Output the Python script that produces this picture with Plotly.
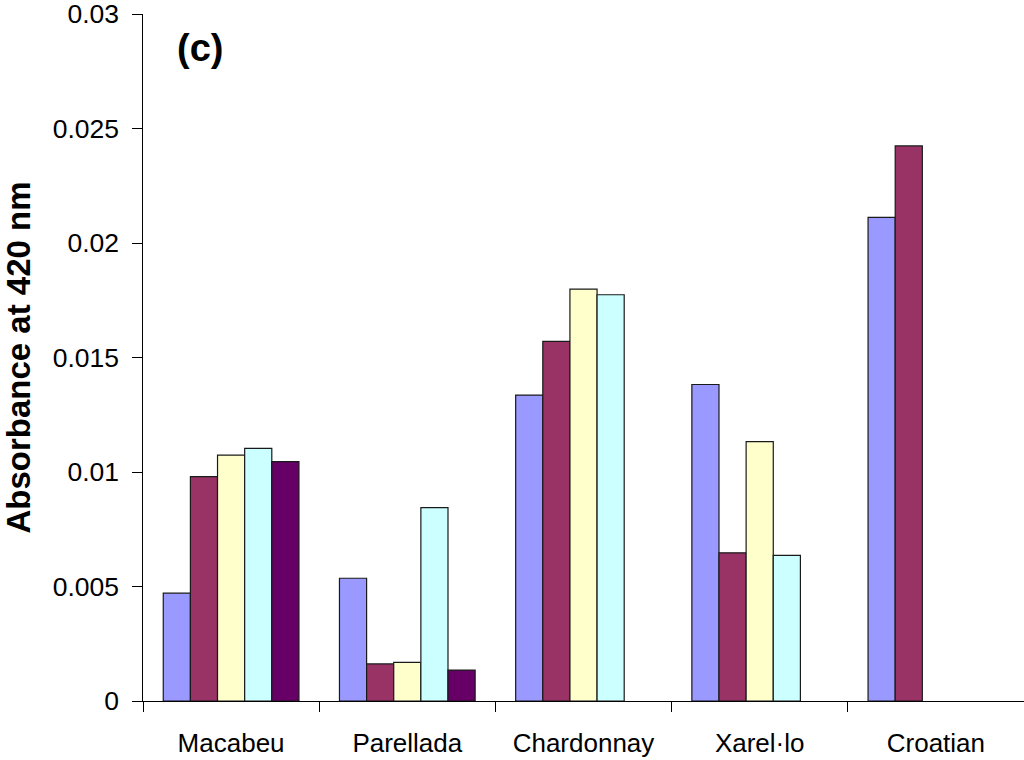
import plotly.graph_objects as go

categories = ["Macabeu", "Parellada", "Chardonnay", "Xarel·lo", "Croatian"]
series1 = [0.00471, 0.00536, 0.01336, 0.01382, 0.02112]
series2 = [0.00980, 0.00162, 0.01570, 0.00647, 0.02424]
series3 = [0.01074, 0.00169, 0.01799, 0.01133, None]
series4 = [0.01103, 0.00844, 0.01774, 0.00636, None]
series5 = [0.01045, 0.00135, None, None, None]
series_names = ["S1", "S2", "S3", "S4", "S5"]
colors = ["#9999FF", "#993366", "#FFFFCC", "#CCFFFF", "#660066"]
y_ticks = [0, 0.005, 0.01, 0.015, 0.02, 0.025, 0.03]
y_tick_labels = ["0", "0.005", "0.01", "0.015", "0.02", "0.025", "0.03"]

fig = go.Figure()
for name, vals, col in zip(series_names, [series1, series2, series3, series4, series5], colors):
    fig.add_trace(go.Bar(
        x=categories, y=vals, name=name,
        marker=dict(color=col, line=dict(color="#1a1a1a", width=1.2)),
    ))

font_family = "Liberation Sans, Arial, sans-serif"
pad = "\u2009\u200a"
fig.update_layout(
    width=1024, height=760,
    margin=dict(l=143, r=0, t=14, b=59),
    paper_bgcolor="white", plot_bgcolor="white",
    barmode="group", bargap=0.23, bargroupgap=0,
    showlegend=False,
    font=dict(family=font_family, color="#000000", size=26),
    xaxis=dict(
        automargin=False,
        showline=True, linecolor="#000000", linewidth=1.2,
        ticks="outside", ticklen=10, tickwidth=1.2, tickcolor="#000000",
        tickson="boundaries", showgrid=False,
        ticklabelstandoff=19,
        tickfont=dict(size=26, family=font_family),
    ),
    yaxis=dict(
        automargin=False,
        range=[0, 0.03], tickvals=y_ticks, ticktext=[t + pad for t in y_tick_labels],
        showline=True, linecolor="#000000", linewidth=1.2,
        ticks="outside", ticklen=10, tickwidth=1.2, tickcolor="#000000",
        showgrid=False, zeroline=False,
        ticklabeloverflow="allow",
        tickfont=dict(size=26.5, family=font_family),
        title=dict(text="<b>Absorbance at 420 nm</b>", font=dict(size=33, family=font_family), standoff=17),
    ),
    annotations=[dict(
        text="<b>(c)</b>", x=0.036, y=0.951, xref="paper", yref="paper",
        xanchor="left", yanchor="middle", showarrow=False,
        font=dict(size=38, family=font_family),
    )],
)

fig.write_html(
    "out.html",
    config={"displayModeBar": False},
    post_script="document.body.style.margin='0';document.body.style.overflow='hidden';",
)
